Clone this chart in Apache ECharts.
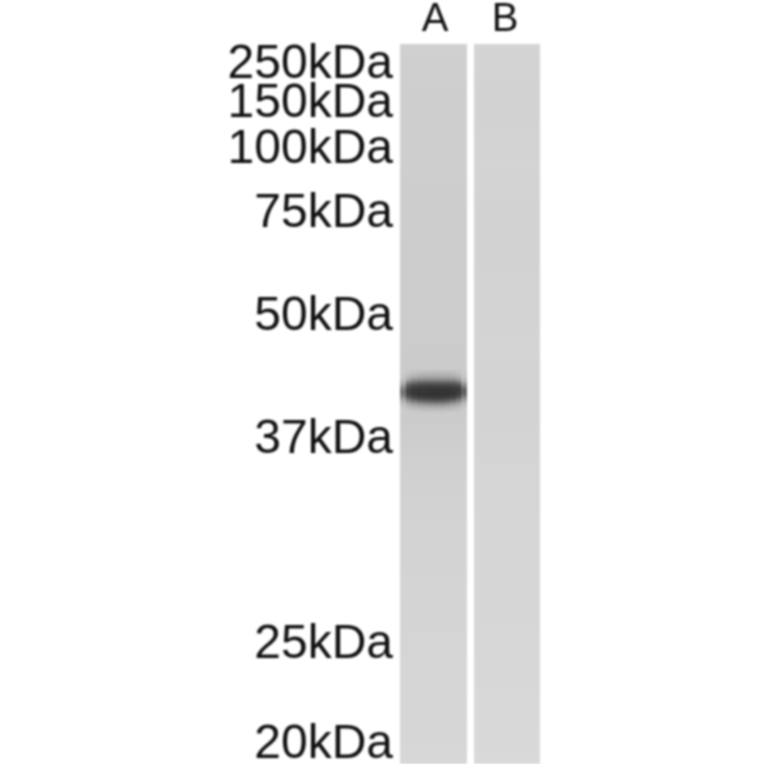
<!DOCTYPE html>
<html><head><meta charset="utf-8">
<style>html,body{margin:0;padding:0;background:#fff}#c{width:764px;height:764px;filter:blur(0.8px)}</style>
<script src="https://cdn.jsdelivr.net/npm/echarts@6/dist/echarts.min.js"></script>
</head><body><div id="c"></div>
<script>
const laneNames = ['A', 'B'];
const markerLabels = ['250kDa', '150kDa', '100kDa', '75kDa', '50kDa', '37kDa', '25kDa', '20kDa'];
const markerMigration = [21, 60, 106, 170, 273, 396, 601, 701];
// lane background grey, read every 60 units of migration from the top of the gel
const laneAGrey = [208, 206, 206, 205, 204, 204, 202, 208, 211, 212, 213, 214, 215];
const laneBGrey = [212, 210, 212, 210, 211, 212, 211, 213, 214, 214, 215, 216, 217];
// band in lane A: grey of each column, read every 3 units from migration 326
const bandColumns = [
  [204, 203, 200, 194, 182, 160, 132, 116, 118, 140, 168, 186, 196, 202, 207],
  [200, 196, 188, 172, 136, 96, 74, 66, 68, 88, 126, 162, 184, 196, 204],
  [198, 192, 180, 156, 116, 80, 62, 56, 56, 68, 102, 146, 176, 192, 202],
  [196, 188, 175, 150, 108, 74, 58, 54, 52, 60, 90, 134, 170, 188, 200],
  [195, 186, 172, 148, 106, 72, 58, 54, 52, 58, 84, 128, 166, 186, 199],
  [194, 185, 171, 148, 106, 72, 56, 52, 50, 56, 80, 124, 164, 185, 198],
  [194, 185, 171, 148, 106, 72, 56, 52, 50, 56, 78, 122, 162, 184, 198],
  [194, 185, 172, 148, 106, 72, 56, 52, 52, 56, 80, 124, 164, 185, 198],
  [195, 186, 173, 148, 106, 72, 56, 52, 52, 58, 86, 130, 168, 187, 199],
  [196, 189, 176, 150, 108, 76, 58, 54, 54, 64, 98, 142, 174, 190, 200],
  [198, 193, 182, 162, 122, 84, 64, 58, 62, 82, 120, 158, 182, 194, 202],
  [203, 201, 197, 188, 170, 140, 108, 94, 100, 126, 158, 182, 194, 201, 206]
];
const laneSpans = [[0, 67], [74, 140]];
const gelDepth = 720, laneStep = 60, bandStart = 326, bandStep = 3;

const grey = v => `rgb(${v},${v},${v})`;
function stops(arr) { return arr.map((v, i) => ({ offset: i / (arr.length - 1), color: grey(v) })); }

const pieces = [];
laneSpans.forEach((s, i) => {
  const g = i === 0 ? laneAGrey : laneBGrey;
  pieces.push({ value: [s[0], s[1], 0, laneStep * (g.length - 1)], g });
});
const colW = (laneSpans[0][1] - laneSpans[0][0]) / bandColumns.length;
bandColumns.forEach((g, i) => {
  pieces.push({ value: [i * colW, (i + 1) * colW, bandStart, bandStart + bandStep * (g.length - 1)], g });
});

// The 150 kDa label sits close to the 250 kDa one, so it gets an overlaid axis of its own
// (ECharts would otherwise drop it as overlapping).
const makeMarkerAxis = values => ({
  type: 'value', inverse: true, min: 0, max: gelDepth, position: 'left', offset: 0,
  axisLine: { show: false }, axisTick: { show: false }, splitLine: { show: false },
  axisLabel: {
    customValues: values, margin: 7, hideOverlap: false,
    showMinLabel: true, showMaxLabel: true,
    fontFamily: 'Liberation Sans', fontSize: 48, lineHeight: 24, color: '#111', align: 'right', verticalAlign: 'middle',
    formatter: v => markerLabels[markerMigration.indexOf(v)]
  }
});

const chart = echarts.init(document.getElementById('c'), null, { renderer: 'canvas' });
chart.setOption({
  animation: false,
  backgroundColor: '#fff',
  grid: { left: 400, right: 224, top: 44, bottom: 0, containLabel: false, outerBoundsMode: 'none' },
  xAxis: {
    type: 'value', position: 'top', min: 0, max: 140,
    axisLine: { show: false }, axisTick: { show: false }, splitLine: { show: false },
    axisLabel: {
      customValues: [35, 105], margin: 4, hideOverlap: false,
      fontFamily: 'Liberation Sans', fontSize: 40, color: '#111',
      formatter: v => laneNames[v === 35 ? 0 : 1]
    }
  },
  yAxis: [
    makeMarkerAxis(markerMigration.filter((v, i) => i !== 1)),
    makeMarkerAxis([markerMigration[1]])
  ],
  series: [{
    type: 'custom',
    coordinateSystem: 'cartesian2d',
    yAxisIndex: 0,
    encode: { x: [0, 1], y: [2, 3] },
    clip: false,
    data: pieces.map(p => ({ value: p.value })),
    renderItem(params, api) {
      const p0 = api.coord([api.value(0), api.value(2)]);
      const p1 = api.coord([api.value(1), api.value(3)]);
      const x0 = Math.round(p0[0]), x1 = Math.round(p1[0]);
      return {
        type: 'rect',
        shape: { x: x0, y: p0[1], width: x1 - x0, height: p1[1] - p0[1] },
        style: { fill: new echarts.graphic.LinearGradient(0, 0, 0, 1, stops(pieces[params.dataIndex].g)) }
      };
    }
  }]
});
</script></body></html>
